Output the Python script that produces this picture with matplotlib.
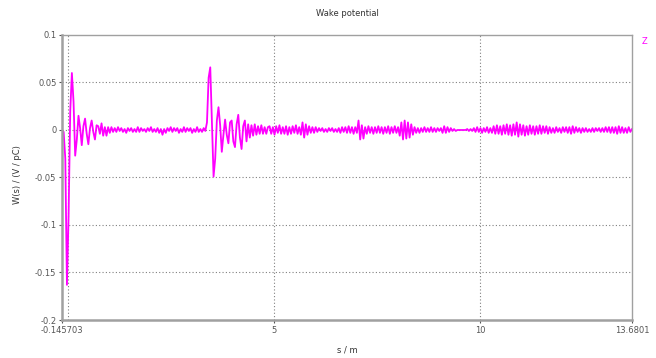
import numpy as np
import matplotlib
matplotlib.use("Agg")
import matplotlib.pyplot as plt

# ---- data (W in units of 1e-3 V/pC), sampled uniformly along s ----
s_min = -0.145703
s_max = 13.6801

seg_first_bunch = [0, -2, -30, -163, -90, 20, 60, 30, -27, -10, 15, 2, -16, 4, 12, -4,
                   -15, 2, 10, -2, -10, 5, 4, -4, 7, -6, 3, -6, 3, -3, 3, -2]
seg_quiet_1 = [2, -2, 3, -1, 2, -2, 1, -3, 2, -1,
               2, -2, 1, -2, 3, -2, 2, -1, 1, -2,
               2, -1, 3, -2, 1, -2, 2, -3, 1, -5,
               1, -3, 2, -1, 3, -2, 2, -1, 2, -3,
               1, -2, 3, -2, 2, -1, 2, -3, 1, -2,
               3, -2, 1, -2, 2, -1]
seg_second_bunch = [8, 55, 66, 10, -49, -30, 10, 24, 5, -23,
                    -5, 11, -5, -14, 8, 10, -12, -18, 6, 16,
                    -8, -20, 4, 10, -12, 6, -8, 5, -6, 6,
                    -5, 4, -4, 5, -4, 3, -4, 3]
seg_ripple_1 = [4, -4, 3, -5, 4, -3, 5, -4, 3, -4,
                4, -5, 3, -4, 4, -3, 5, -4, 3, -5,
                8, -8, 6, -5, 4,
                -3, 3, -3, 3]
seg_ripple_2 = [-2, 2, -1, 2, -2, 1, -2, 2, -1, 2, -2, 1, -2, 2,
                -3, 3, -2, 3, -3, 4, -3, 3, -4, 3, -3,
                10, -10, 5, -9, 3, -4]
seg_ripple_3 = [4, -3, 3, -4, 3, -3, 4, -3, 3, -4, 3, -3, 4, -4, 3, -3, 4, -3, 3,
                -6, 8, -10, 10, -9, 8, -8, 6, -5,
                3, -3, 2, -3, 2, -2, 3, -2, 2, -2, 3, -2, 2, -2, 2, -1, 2,
                -3, 4, -3, 3, -2, 2]
seg_ripple_4 = [-1, 1, -1, 0, 0, 0, 0, 0, 0, 1, -1, 1, -1,
                2, -2, 3, -2, 2, -3, 2, -2, 3, -3, 2, -3]
seg_ripple_5 = [4, -4, 5, -4, 4, -5, 5, -4, 6, -5, 5, -6, 6, -5,
                8, -7, 6, -5, 5, -6, 4, -5, 5, -4, 4, -5, 4, -4, 5, -4, 4, -3, 4, -4, 3]
seg_ripple_6 = [-3, 2, -3, 3, -2, 2, -3, 3, -2, 3, -3, 3, -4, 4, -3, 3, -2, 2, -3, 2,
                -2, 2, -2, 1, -2, 2, -2, 2, -1, 2, -2, 2, -2, 3, -2, 3, -3,
                3, -3, 3, -4, 4, -3, 3, -3, 2, -3, 3, -2, 1]

w_milli = (seg_first_bunch + seg_quiet_1 + seg_second_bunch + seg_ripple_1 +
           seg_ripple_2 + seg_ripple_3 + seg_ripple_4 + seg_ripple_5 + seg_ripple_6)
w = np.array(w_milli, dtype=float) * 1e-3
s = np.linspace(s_min, s_max, len(w))

x_ticks = [s_min, 5, 10, s_max]
x_ticklabels = ["-0.145703", "5", "10", "13.6801"]
x_grid = [0, 5, 10]
y_ticks = [0.1, 0.05, 0, -0.05, -0.1, -0.15, -0.2]
y_ticklabels = ["0.1", "0.05", "0", "-0.05", "-0.1", "-0.15", "-0.2"]

# ---- figure ----
fig = plt.figure(figsize=(6.56, 3.58), dpi=100)
ax = fig.add_axes([62/656, 1-320/358, (632-62)/656, (320-35)/358])

ax.plot(s, w, color="#ff00ff", lw=1.3, solid_joinstyle="round")

ax.set_xlim(s_min, s_max)
ax.set_ylim(-0.2, 0.1)

for xg in x_grid:
    ax.axvline(xg, color="#808080", lw=0.8, ls=(0, (1, 2)), zorder=0)
for yg in y_ticks[1:-1]:
    ax.axhline(yg, color="#808080", lw=0.8, ls=(0, (1, 2)), zorder=0)

ax.set_xticks(x_ticks)
ax.set_xticklabels(x_ticklabels)
ax.set_yticks(y_ticks)
ax.set_yticklabels(y_ticklabels)
ax.tick_params(axis="both", labelsize=6, colors="#555555", length=2, width=0.8, pad=2)

for side in ["left", "bottom"]:
    ax.spines[side].set_color("#a0a0a0")
    ax.spines[side].set_linewidth(1.8)
for side in ["top", "right"]:
    ax.spines[side].set_color("#a0a0a0")
    ax.spines[side].set_linewidth(1.0)

fig.text(347/656, 1-14/358, "Wake potential", ha="center", va="center",
         fontsize=6, color="#333333")
fig.text(347/656, 1-350/358, "s / m", ha="center", va="center",
         fontsize=6, color="#333333")
fig.text(18/656, 1-175/358, "W(s) / (V / pC)", ha="center", va="center",
         rotation=90, fontsize=6, color="#333333")
fig.text(645/656, 1-42/358, "Z", ha="center", va="center",
         fontsize=6, color="#ff00ff")

fig.savefig("out.png", dpi=100)
